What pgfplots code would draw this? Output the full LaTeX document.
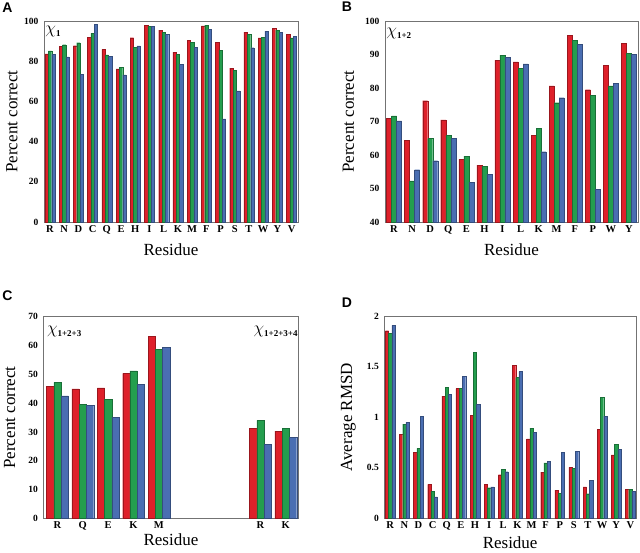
\documentclass[border=0pt]{standalone}
\usepackage{fontspec}
\setmainfont{Liberation Serif}
\newfontfamily\sansfont{Liberation Sans}
\usepackage{pgfplots}
\pgfplotsset{compat=1.18}
\definecolor{cred}{RGB}{222,32,42}
\definecolor{cgreen}{RGB}{36,158,78}
\definecolor{cblue}{RGB}{74,110,178}
\pgfplotsset{
  panel/.style={
    scale only axis, ybar=0pt, enlargelimits=false,
    axis line style={draw=black!55, line width=0.7pt},
    major tick length=0pt, tick style={draw=none},
    yticklabel style={font=\bfseries\fontsize{9.5}{10}\selectfont, xshift=-2pt},
    xticklabel style={font=\bfseries\fontsize{10.5}{11}\selectfont},
    label style={font=\fontsize{17}{19}\selectfont},
    /pgf/number format/assume math mode=true,
    clip=false,
  },
  sred/.style={fill=cred, draw=cred!70!black, line width=0.25pt},
  sgreen/.style={fill=cgreen, draw=cgreen!70!black, line width=0.25pt},
  sblue/.style={fill=cblue, draw=cblue!70!black, line width=0.25pt},
}
\newcommand{\chilab}[1]{{\fontsize{17}{17}\selectfont$\chi$}\raisebox{-3pt}{\fontsize{9}{9}\selectfont\bfseries #1}}
\begin{document}
\begin{tikzpicture}
\useasboundingbox (0,0) rectangle (640pt,-552pt);
% ---------------- A ----------------
\begin{axis}[panel, at={(44pt,-222pt)}, anchor=south west, width=254pt, height=201pt,
  bar width=0.235, xmin=-0.42, xmax=17.45, ymin=0, ymax=100, ytick={0,20,40,60,80,100},
  xtick={0,...,17}, xticklabels={R,N,D,C,Q,E,H,I,L,K,M,F,P,S,T,W,Y,V},
  ylabel={Percent correct}, xlabel={Residue},
  ylabel style={at={(axis description cs:-0.126,0.5)}, anchor=center},
  xlabel style={at={(axis description cs:0.5,-0.139)}, anchor=center}]
\addplot[sred] coordinates {(0,83.6)(1,87.3)(2,87.7)(3,92.0)(4,85.9)(5,76.2)(6,91.7)(7,97.9)(8,95.4)(9,84.5)(10,90.5)(11,97.6)(12,89.4)(13,76.6)(14,94.5)(15,91.6)(16,96.5)(17,93.4)};
\addplot[sgreen] coordinates {(0,85.1)(1,88.2)(2,89.2)(3,93.9)(4,83.1)(5,77.1)(6,86.8)(7,97.5)(8,94.5)(9,83.4)(10,89.5)(11,98.0)(12,85.4)(13,75.4)(14,93.4)(15,91.9)(16,95.5)(17,91.6)};
\addplot[sblue] coordinates {(0,83.4)(1,82.1)(2,73.5)(3,98.4)(4,82.4)(5,73.2)(6,87.6)(7,97.5)(8,93.5)(9,78.6)(10,86.9)(11,95.8)(12,51.3)(13,65.2)(14,86.7)(15,95.0)(16,94.5)(17,92.4)};
\node[anchor=north west, inner sep=0pt] at (axis description cs:0.005,0.975) {\chilab{1}};
\end{axis}
% ---------------- B ----------------
\begin{axis}[panel, at={(385pt,-222pt)}, anchor=south west, width=253pt, height=201pt,
  bar width=0.277, xmin=-0.5, xmax=13.5, ymin=40, ymax=100, ytick={40,50,...,100},
  xtick={0,...,13}, xticklabels={R,N,D,Q,E,H,I,L,K,M,F,P,W,Y},
  ylabel={Percent correct}, xlabel={Residue},
  ylabel style={at={(axis description cs:-0.145,0.5)}, anchor=center},
  xlabel style={at={(axis description cs:0.5,-0.139)}, anchor=center}]
\addplot[sred] coordinates {(0,71.0)(1,64.4)(2,76.2)(3,70.5)(4,58.7)(5,57.0)(6,88.3)(7,87.8)(8,65.9)(9,80.6)(10,95.8)(11,79.5)(12,86.7)(13,93.4)};
\addplot[sgreen] coordinates {(0,71.7)(1,52.3)(2,64.9)(3,65.8)(4,59.7)(5,56.6)(6,89.8)(7,85.9)(8,67.9)(9,75.6)(10,94.3)(11,77.9)(12,80.6)(13,90.4)};
\addplot[sblue] coordinates {(0,70.2)(1,55.6)(2,58.3)(3,65.0)(4,51.8)(5,54.3)(6,89.1)(7,87.2)(8,61.0)(9,77.1)(10,93.0)(11,49.8)(12,81.4)(13,90.1)};
\node[anchor=north west, inner sep=0pt] at (axis description cs:0.005,0.965) {\chilab{1+2}};
\end{axis}
% ---------------- C ----------------
\begin{axis}[panel, at={(43.5pt,-518.3pt)}, anchor=south west, width=255pt, height=201.6pt,
  bar width=0.286, xmin=-0.55, xmax=9.5, ymin=0, ymax=70, ytick={0,10,...,70},
  xtick={0,1,2,3,4,8,9}, xticklabels={R,Q,E,K,M,R,K},
  ylabel={Percent correct}, xlabel={Residue},
  ylabel style={at={(axis description cs:-0.133,0.5)}, anchor=center},
  xlabel style={at={(axis description cs:0.5,-0.104)}, anchor=center}]
\addplot[sred] coordinates {(0,45.9)(1,44.9)(2,45.3)(3,50.3)(4,63.3)(8,31.3)(9,30.3)};
\addplot[sgreen] coordinates {(0,47.2)(1,39.5)(2,41.4)(3,51.2)(4,58.7)(8,34.0)(9,31.3)};
\addplot[sblue] coordinates {(0,42.5)(1,39.2)(2,35.1)(3,46.6)(4,59.4)(8,25.8)(9,28.2)};
\node[anchor=north west, inner sep=0pt] at (axis description cs:0.013,0.955) {\chilab{1+2+3}};
\node[anchor=north east, inner sep=0pt] at (axis description cs:0.997,0.955) {\chilab{1+2+3+4}};
\end{axis}
% ---------------- D ----------------
\begin{axis}[panel, at={(384.3pt,-518.3pt)}, anchor=south west, width=251.7pt, height=202pt,
  bar width=0.23, xmin=-0.42, xmax=17.4, ymin=0, ymax=2, ytick={0,0.5,1,1.5,2},
  yticklabel style={/pgf/number format/fixed},
  xtick={0,...,17}, xticklabels={R,N,D,C,Q,E,H,I,L,K,M,F,P,S,T,W,Y,V},
  ylabel={Average RMSD}, xlabel={Residue},
  ylabel style={at={(axis description cs:-0.143,0.5)}, anchor=center},
  xlabel style={at={(axis description cs:0.5,-0.121)}, anchor=center}]
\addplot[sred] coordinates {(0,1.858)(1,0.830)(2,0.652)(3,0.336)(4,1.209)(5,1.285)(6,1.021)(7,0.336)(8,0.432)(9,1.512)(10,0.787)(11,0.458)(12,0.280)(13,0.504)(14,0.310)(15,0.883)(16,0.629)(17,0.287)};
\addplot[sgreen] coordinates {(0,1.832)(1,0.932)(2,0.692)(3,0.270)(4,1.295)(5,1.285)(6,1.641)(7,0.303)(8,0.484)(9,1.394)(10,0.893)(11,0.550)(12,0.250)(13,0.498)(14,0.244)(15,1.199)(16,0.731)(17,0.287)};
\addplot[sblue] coordinates {(0,1.911)(1,0.949)(2,1.012)(3,0.211)(4,1.226)(5,1.404)(6,1.130)(7,0.310)(8,0.461)(9,1.453)(10,0.850)(11,0.563)(12,0.652)(13,0.666)(14,0.379)(15,1.012)(16,0.682)(17,0.270)};
\end{axis}
% panel letters
\node[font=\sansfont\bfseries\fontsize{14}{14}\selectfont] at (7.5pt,-8pt) {A};
\node[font=\sansfont\bfseries\fontsize{14}{14}\selectfont] at (347pt,-7pt) {B};
\node[font=\sansfont\bfseries\fontsize{14}{14}\selectfont] at (7.5pt,-296pt) {C};
\node[font=\sansfont\bfseries\fontsize{14}{14}\selectfont] at (347pt,-302.7pt) {D};
\end{tikzpicture}
\end{document}
